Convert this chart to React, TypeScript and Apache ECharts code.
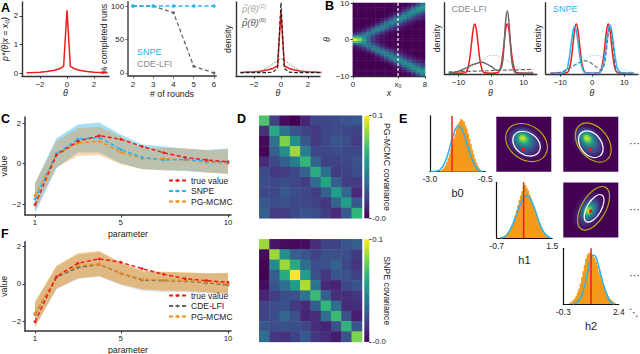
import React, { useEffect, useRef } from "react";
import * as echarts from "echarts";

const FONT = "Liberation Sans";
const RED = "#f01c1c";
const BLUE = "#27b4f0";
const ORANGE = "#f2901e";
const SLATE = "#5d666c";
const VIRIDIS = ["#440154", "#482878", "#3e4989", "#31688e", "#26828e", "#1f9e89", "#35b779", "#6ece58", "#b5de2b", "#fde725"];

// ---- Panel A
const thetaA = [-3, -2.5, -2, -1.5, -1, -0.6, -0.25, 0, 0.25, 0.6, 1, 1.5, 2, 2.5, 3];
const posteriorA = [0.01, 0.015, 0.03, 0.05, 0.09, 0.14, 0.23, 2.2, 0.23, 0.14, 0.09, 0.05, 0.03, 0.015, 0.01];
const rounds = [2, 3, 4, 5, 6];
const runsSnpe = [100, 100, 100, 100, 100];
const runsCde = [100, 100, 90, 10, 0];
const densityTrueA = [0.005, 0.01, 0.015, 0.025, 0.045, 0.07, 0.11, 1, 0.11, 0.07, 0.045, 0.025, 0.015, 0.01, 0.005];
const densityRound6 = [0, 0, 0, 0, 0, 0.01, 0.07, 1.15, 0.07, 0.01, 0, 0, 0, 0, 0];
const densityRound2 = [0, 0.005, 0.01, 0.03, 0.08, 0.15, 0.2, 0.235, 0.2, 0.15, 0.08, 0.03, 0.01, 0.005, 0];

// ---- Panel B
const heatXs = [0.25, 0.75, 1.25, 1.75, 2.25, 2.75, 3.25, 3.75, 4.25, 4.75, 5.25, 5.75, 6.25, 6.75, 7.25, 7.75];
const heatThetas = [0, 0.625, 1.25, 1.875, 2.5, 3.125, 3.75, 4.375, 5, 5.625, 6.25, 6.875, 7.5, 8.125, 8.75, 9.375, 10];
// one row per x column, upper half of the symmetric image
const heatUpper = [
  [1.0, 0.72, 0.3, 0.08, 0.02, 0, 0, 0, 0, 0, 0, 0, 0, 0, 0, 0, 0],
  [0.85, 0.68, 0.4, 0.16, 0.05, 0.01, 0, 0, 0, 0, 0, 0, 0, 0, 0, 0, 0],
  [0.58, 0.52, 0.45, 0.28, 0.12, 0.04, 0.01, 0, 0, 0, 0, 0, 0, 0, 0, 0, 0],
  [0.3, 0.32, 0.4, 0.42, 0.26, 0.11, 0.03, 0.01, 0, 0, 0, 0, 0, 0, 0, 0, 0],
  [0.15, 0.17, 0.26, 0.39, 0.43, 0.27, 0.12, 0.04, 0.01, 0, 0, 0, 0, 0, 0, 0, 0],
  [0.06, 0.08, 0.14, 0.26, 0.4, 0.44, 0.28, 0.13, 0.04, 0.01, 0, 0, 0, 0, 0, 0, 0],
  [0.02, 0.03, 0.06, 0.14, 0.27, 0.41, 0.44, 0.3, 0.14, 0.05, 0.01, 0, 0, 0, 0, 0, 0],
  [0.01, 0.01, 0.03, 0.06, 0.15, 0.28, 0.43, 0.45, 0.3, 0.15, 0.05, 0.01, 0, 0, 0, 0, 0],
  [0, 0, 0.01, 0.02, 0.07, 0.16, 0.3, 0.43, 0.46, 0.31, 0.16, 0.05, 0.01, 0, 0, 0, 0],
  [0, 0, 0, 0.01, 0.03, 0.08, 0.17, 0.31, 0.44, 0.46, 0.32, 0.16, 0.06, 0.01, 0, 0, 0],
  [0, 0, 0, 0, 0.01, 0.03, 0.09, 0.18, 0.33, 0.45, 0.47, 0.33, 0.17, 0.06, 0.01, 0, 0],
  [0, 0, 0, 0, 0, 0.01, 0.04, 0.1, 0.19, 0.34, 0.46, 0.48, 0.34, 0.18, 0.07, 0.02, 0],
  [0, 0, 0, 0, 0, 0, 0.01, 0.05, 0.11, 0.2, 0.35, 0.47, 0.49, 0.35, 0.19, 0.07, 0.02],
  [0, 0, 0, 0, 0, 0, 0, 0.02, 0.06, 0.12, 0.21, 0.36, 0.48, 0.5, 0.36, 0.2, 0.08],
  [0, 0, 0, 0, 0, 0, 0, 0, 0.02, 0.07, 0.13, 0.22, 0.37, 0.5, 0.51, 0.37, 0.21],
  [0, 0, 0, 0, 0, 0, 0, 0, 0, 0.03, 0.08, 0.14, 0.23, 0.39, 0.51, 0.52, 0.39],
];
const thetaB = [-13, -10, -8, -7.5, -7, -6.5, -6, -5.5, -5, -4.5, -4, -3.5, -3, -2.5, -2, 0, 2, 2.5, 3, 3.5, 4, 4.5, 5, 5.5, 6, 6.5, 7, 7.5, 8, 10, 13];
const trueB = [0, 0, 0.01, 0.04, 0.13, 0.32, 0.6, 0.88, 1, 0.88, 0.6, 0.32, 0.13, 0.04, 0.01, 0, 0.01, 0.04, 0.13, 0.32, 0.6, 0.88, 1, 0.88, 0.6, 0.32, 0.13, 0.04, 0.01, 0, 0];
const roundOneB = [0.01, 0.03, 0.07, 0.08, 0.1, 0.115, 0.13, 0.15, 0.17, 0.19, 0.21, 0.23, 0.25, 0.27, 0.29, 0.36, 0.36, 0.34, 0.33, 0.31, 0.29, 0.27, 0.25, 0.23, 0.21, 0.19, 0.17, 0.15, 0.13, 0.07, 0.02];
const cdeFinal = [0, 0.04, 0.1, 0.11, 0.13, 0.15, 0.165, 0.18, 0.19, 0.2, 0.21, 0.22, 0.225, 0.22, 0.21, 0.14, 0.06, 0.06, 0.09, 0.2, 0.55, 1.05, 1.26, 1.05, 0.55, 0.2, 0.06, 0.01, 0, 0, 0];
const cdeMiddle = [0.03, 0.035, 0.04, 0.04, 0.04, 0.04, 0.04, 0.045, 0.045, 0.045, 0.045, 0.045, 0.05, 0.05, 0.05, 0.055, 0.06, 0.06, 0.06, 0.06, 0.065, 0.065, 0.065, 0.065, 0.07, 0.07, 0.07, 0.07, 0.07, 0.075, 0.08];
const snpeFinal = [0, 0, 0.08, 0.2, 0.4, 0.64, 0.86, 0.95, 0.86, 0.64, 0.4, 0.2, 0.08, 0.02, 0.005, 0, 0.005, 0.02, 0.08, 0.2, 0.4, 0.66, 0.88, 0.98, 0.88, 0.66, 0.4, 0.2, 0.08, 0, 0];
const snpeMiddle = [0, 0.02, 0.07, 0.09, 0.11, 0.13, 0.15, 0.17, 0.19, 0.21, 0.22, 0.235, 0.245, 0.25, 0.25, 0.19, 0.09, 0.07, 0.07, 0.12, 0.25, 0.5, 0.78, 0.92, 0.85, 0.55, 0.22, 0.07, 0.02, 0, 0];

// ---- Panels C and F
const parameters = [1, 2, 3, 4, 5, 6, 7, 8, 9, 10];
const cTrue = [-2.03, 0.43, 1.1, 1.38, 1.2, 0.85, 0.54, 0.31, 0.18, 0.1];
const cSnpe = [-1.74, 0.49, 1.21, 1.29, 0.7, 0.3, 0.18, 0.21, 0.11, 0.07];
const cPg = [-1.57, 0.43, 1.02, 1.11, 0.56, 0.26, 0.25, 0.18, 0.07, 0.02];
const cSnpeHi = [-0.97, 1.25, 1.93, 2.03, 1.44, 0.95, 0.84, 0.75, 0.67, 0.75];
const cSnpeLo = [-2.44, -0.23, 0.55, 0.55, 0.02, -0.26, -0.33, -0.36, -0.44, -0.48];
const cPgHi = [-0.97, 1.11, 1.74, 1.82, 1.33, 0.79, 0.79, 0.75, 0.66, 0.7];
const cPgLo = [-2.28, -0.18, 0.38, 0.43, -0.03, -0.28, -0.33, -0.34, -0.44, -0.52];
const fTrue = [-2.0, 0.39, 1.1, 1.33, 1.15, 0.81, 0.51, 0.28, 0.18, 0.09];
const fCde = [-1.6, 0.35, 0.88, 1.04, 0.57, 0.21, 0.18, 0.16, 0.07, -0.05];
const fPg = [-1.56, 0.39, 0.96, 1.06, 0.57, 0.25, 0.21, 0.19, 0.1, 0];
const fCdeHi = [-1.0, 0.9, 1.55, 1.68, 1.1, 0.66, 0.62, 0.58, 0.55, 0.56];
const fCdeLo = [-2.3, -0.28, 0.27, 0.38, -0.06, -0.36, -0.42, -0.44, -0.48, -0.56];
const fPgHi = [-0.94, 0.97, 1.63, 1.75, 1.15, 0.71, 0.65, 0.62, 0.57, 0.6];
const fPgLo = [-2.27, -0.25, 0.3, 0.42, -0.02, -0.28, -0.35, -0.37, -0.44, -0.53];

// ---- Panel D
const covPg = [
  [0.72, 0.2, 0.03, 0.0, 0.1, 0.22, 0.22, 0.23, 0.26, 0.28],
  [0.14, 0.6, 0.38, 0.26, 0.2, 0.17, 0.22, 0.23, 0.22, 0.2],
  [0.02, 0.38, 0.8, 0.5, 0.28, 0.17, 0.22, 0.27, 0.24, 0.18],
  [0.01, 0.3, 0.5, 0.85, 0.43, 0.22, 0.22, 0.24, 0.22, 0.22],
  [0.12, 0.22, 0.3, 0.43, 0.66, 0.32, 0.2, 0.2, 0.22, 0.26],
  [0.23, 0.17, 0.18, 0.22, 0.32, 0.62, 0.36, 0.18, 0.2, 0.24],
  [0.24, 0.22, 0.24, 0.22, 0.18, 0.34, 0.58, 0.3, 0.18, 0.18],
  [0.22, 0.22, 0.28, 0.24, 0.22, 0.18, 0.3, 0.55, 0.33, 0.12],
  [0.28, 0.24, 0.26, 0.22, 0.22, 0.2, 0.16, 0.32, 0.56, 0.28],
  [0.3, 0.18, 0.18, 0.22, 0.26, 0.24, 0.18, 0.12, 0.28, 0.65],
];
const covSnpe = [
  [0.85, 0.06, 0.03, 0.02, 0.04, 0.13, 0.2, 0.2, 0.27, 0.3],
  [0.03, 0.85, 0.5, 0.3, 0.27, 0.2, 0.25, 0.25, 0.24, 0.17],
  [0.01, 0.48, 0.85, 0.6, 0.36, 0.24, 0.25, 0.32, 0.22, 0.15],
  [0.0, 0.3, 0.6, 1.0, 0.55, 0.25, 0.16, 0.27, 0.25, 0.2],
  [0.04, 0.27, 0.36, 0.55, 0.88, 0.38, 0.12, 0.1, 0.22, 0.27],
  [0.1, 0.18, 0.24, 0.25, 0.38, 0.68, 0.3, 0.13, 0.13, 0.16],
  [0.2, 0.24, 0.25, 0.17, 0.12, 0.3, 0.66, 0.36, 0.12, 0.13],
  [0.2, 0.24, 0.33, 0.25, 0.1, 0.13, 0.36, 0.68, 0.25, 0.08],
  [0.28, 0.24, 0.25, 0.24, 0.22, 0.13, 0.1, 0.25, 0.65, 0.27],
  [0.36, 0.16, 0.14, 0.2, 0.28, 0.16, 0.13, 0.08, 0.26, 0.8],
];

// ---- Panel E
const histB0 = [0, 0, 0, 0, 0, 0, 0, 0.01, 0.03, 0.05, 0.08, 0.12, 0.18, 0.26, 0.34, 0.44, 0.53, 0.63, 0.72, 0.82, 0.9, 0.95, 1.0, 0.98, 0.95, 0.88, 0.82, 0.72, 0.62, 0.52, 0.42, 0.33, 0.24, 0.17, 0.11, 0.06, 0.03, 0.01, 0, 0];
const histH1 = [0, 0, 0, 0.01, 0.02, 0.03, 0.05, 0.08, 0.11, 0.15, 0.2, 0.26, 0.33, 0.42, 0.52, 0.62, 0.72, 0.8, 0.88, 0.97, 1.0, 0.95, 0.9, 0.82, 0.76, 0.68, 0.6, 0.52, 0.44, 0.37, 0.3, 0.23, 0.17, 0.12, 0.08, 0.05, 0.03, 0.01, 0, 0];
const histH2 = [0, 0, 0, 0, 0.01, 0.03, 0.05, 0.08, 0.11, 0.16, 0.22, 0.3, 0.4, 0.52, 0.64, 0.76, 0.88, 0.96, 0.99, 1.0, 0.97, 0.93, 0.9, 0.82, 0.74, 0.64, 0.55, 0.48, 0.4, 0.33, 0.26, 0.2, 0.15, 0.1, 0.07, 0.05, 0.03, 0.01, 0, 0];
const fitB0X = [-2.985, -2.686, -2.536, -2.386, -2.236, -2.087, -1.937, -1.817, -1.713, -1.608, -1.488, -1.338, -1.189, -1.039, -0.889, -0.739, -0.589];
const fitB0Y = [0, 0.01, 0.04, 0.12, 0.27, 0.48, 0.7, 0.83, 0.87, 0.84, 0.74, 0.55, 0.35, 0.18, 0.07, 0.02, 0];
const fitH1X = [-0.567, -0.367, -0.233, -0.1, 0.033, 0.167, 0.3, 0.433, 0.527, 0.633, 0.767, 0.9, 1.033, 1.167, 1.3, 1.433];
const fitH1Y = [0, 0.03, 0.1, 0.22, 0.38, 0.55, 0.7, 0.78, 0.79, 0.74, 0.6, 0.42, 0.24, 0.11, 0.04, 0];
const fitH2X = [0.188, 0.351, 0.513, 0.676, 0.839, 1.002, 1.132, 1.245, 1.376, 1.538, 1.701, 1.864, 2.026, 2.19];
const fitH2Y = [0, 0.03, 0.1, 0.27, 0.55, 0.84, 0.95, 0.94, 0.8, 0.55, 0.32, 0.14, 0.03, 0];
// [cx, cy, rx, ry, rotation in degrees, viridis index]
const pairB0H1Blob = [
  [52, 54, 38, 30, -35, 0.3], [52, 54, 33, 26, -35, 0.7], [51, 55, 29, 23, -35, 1.2], [51, 56, 25, 20, -35, 2],
  [50, 57, 21, 17, -35, 2.8], [50, 58, 17, 14, -35, 3.6], [49, 59, 14, 11.5, -35, 4.5], [49, 60, 11, 9, -35, 5.5],
  [49, 60, 8.5, 7, -30, 6.5], [48, 61, 6, 5, -30, 7.5], [48, 61, 3.5, 3, 0, 8.2],
];
const pairB0H2Blob = [
  [47, 53, 38, 27, -50, 0.3], [47, 54, 33, 23, -50, 0.7], [46, 55, 29, 20, -50, 1.2], [46, 56, 25, 18, -50, 2],
  [45, 57, 21, 15, -50, 2.8], [45, 58, 17, 12.5, -50, 3.6], [44, 59, 14, 10.5, -50, 4.5], [44, 60, 11, 8.5, -50, 5.5],
  [44, 60, 8.5, 6.5, -45, 6.5], [43, 61, 6, 5, -45, 7.5], [43, 61, 3.5, 3, 0, 8.2],
];
const pairH1H2Blob = [
  [46, 48, 38, 26, 60, 0.3], [46, 48, 32, 21, 60, 0.7], [46, 48, 27, 18, 60, 1.2], [47, 49, 23, 15, 60, 2],
  [47, 49, 19, 13, 60, 2.8], [47, 49, 16, 11, 60, 3.6], [46, 49, 13, 9, 60, 4.5], [46, 49, 10.5, 7.5, 60, 5.5],
  [46, 49, 8, 6, 60, 6.5], [46, 49, 5.5, 4, 60, 7.5], [46, 49, 3, 2.5, 60, 8.2],
];
const pairB0H1Rings = [[55, 53, 41, 31, -35], [55, 51, 27, 20, -35]];
const pairB0H2Rings = [[54.5, 53, 40, 27, -52], [50, 50, 27, 19, -52]];
const pairH1H2Rings = [[55, 53, 44, 22, 60], [56, 53, 28, 13, 60]];
const ringColors = ["#b8aa14", "#ffffff"];
const truthB0H1 = [49, 41];
const truthB0H2 = [50, 41];
const truthH1H2 = [50, 48];

const grids: any[] = [];
const xAxes: any[] = [];
const yAxes: any[] = [];
const series: any[] = [];
const visualMaps: any[] = [];
const colorbars: any[] = [];

const minus = (v: any) => String(v).replace("-", "\u2212");

function panel(left: number, top: number, width: number, height: number, x: any, y: any, extra: any = {}) {
  const i = grids.length;
  grids.push({ left, top, width, height, containLabel: false, outerBoundsMode: "none", ...extra });
  xAxes.push({ gridIndex: i, ...x });
  yAxes.push({ gridIndex: i, ...y });
  return i;
}

function vAxis(o: any) {
  const color = o.color ?? "#333";
  const ticks = o.ticks ?? [];
  return {
    type: "value",
    min: o.min,
    max: o.max,
    position: o.position,
    splitLine: { show: false },
    axisLine: { show: o.line !== false, onZero: false, lineStyle: { color, width: o.width ?? 1.4 } },
    axisTick: { show: ticks.length > 0 && o.noTick !== true, length: o.tickLen ?? 2.5, customValues: ticks, lineStyle: { color, width: 1 } },
    axisLabel: {
      show: ticks.length > 0,
      customValues: ticks,
      fontSize: o.fontSize ?? 7.8,
      fontFamily: FONT,
      color: "#222",
      margin: o.margin ?? 4,
      formatter: o.formatter ?? minus,
    },
    name: o.name,
    nameLocation: "middle",
    nameGap: o.nameGap ?? 12,
    nameRotate: o.nameRotate,
    nameMoveOverlap: o.nameMoveOverlap,
    nameTextStyle: { fontSize: o.nameSize ?? 8.8, fontFamily: FONT, color: "#222", fontStyle: o.italic ? "italic" : "normal" },
  };
}

const hidden = (n: number, inverse = false) => ({
  type: "category",
  show: false,
  inverse,
  data: Array.from({ length: n }, (_, i) => String(i)),
});
const hiddenValue = { type: "value", min: 0, max: 100, show: false };

function lineXY(g: number, xs: number[], ys: number[], color: string, extra: any = {}) {
  series.push({
    type: "line",
    xAxisIndex: g,
    yAxisIndex: g,
    data: xs.map((x, i) => [x, ys[i]]),
    showSymbol: false,
    symbol: "none",
    lineStyle: { color, width: 1.5 },
    itemStyle: { color },
    silent: true,
    ...extra,
  });
}

function band(g: number, xs: number[], lo: number[], hi: number[], fill: string) {
  series.push({
    type: "custom",
    coordinateSystem: "cartesian2d",
    xAxisIndex: g,
    yAxisIndex: g,
    silent: true,
    data: xs.map((x, i) => [x, lo[i], hi[i]]),
    renderItem: (p: any, api: any) => {
      if (p.dataIndex !== 0) return null;
      const points = [...xs.map((x, i) => api.coord([x, hi[i]])), ...xs.map((_, i) => api.coord([xs[xs.length - 1 - i], lo[xs.length - 1 - i]]))];
      return { type: "polygon", shape: { points }, style: { fill } };
    },
  });
}

function paramPanel(top: number, height: number, yMin: number, yMax: number, bottomName: string) {
  return panel(
    25, top, 206, height,
    vAxis({ min: 0.535, max: 10.14, ticks: [1, 5, 10], name: bottomName, nameGap: 14, width: 1.5, margin: 3 }),
    vAxis({ min: yMin, max: yMax, ticks: [-2, 0, 2], name: "value", nameGap: 11, width: 1.5 })
  );
}

function dashed(g: number, ys: number[], color: string, name: string) {
  lineXY(g, parameters, ys, color, {
    name,
    showSymbol: true,
    symbol: "diamond",
    symbolSize: 3.5,
    lineStyle: { color, width: 1.5, type: [4, 2.5] },
  });
}

function matrix(top: number, values: number[][], label: string) {
  const g = panel(259.3, top, 102.7, 102.6, hidden(10), hidden(10, true));
  series.push({
    type: "heatmap",
    xAxisIndex: g,
    yAxisIndex: g,
    silent: true,
    data: values.flatMap((row, r) => row.map((v, c) => [c, r, v])),
  });
  visualMaps.push({
    type: "continuous",
    show: false,
    seriesIndex: series.length - 1,
    min: 0,
    max: 1,
    inRange: { color: VIRIDIS },
  });
  colorbars.push({
    type: "rect",
    shape: { x: 364.3, y: top, width: 5, height: 102.6 },
    style: {
      fill: new echarts.graphic.LinearGradient(
        0, 1, 0, 0,
        VIRIDIS.map((color, i) => ({ offset: i / (VIRIDIS.length - 1), color }))
      ),
    },
  });
  panel(
    364.3, top, 5, 102.6,
    { type: "value", show: false, min: 0, max: 1 },
    vAxis({
      min: 0, max: 1, position: "right", ticks: [0, 1], line: false, tickLen: 2, margin: 3,
      formatter: (v: number) => (v === 1 ? "0.1" : "-0.0"),
      name: label, nameRotate: -90, nameGap: 13, nameMoveOverlap: false,
    })
  );
}

function density(left: number, top: number, blob: number[][], rings: number[][], truth: number[]) {
  const g = panel(left, top, 55, 55, hiddenValue, hiddenValue, { show: true, backgroundColor: VIRIDIS[0], borderWidth: 0 });
  const ell = (api: any, stroke: string | null, fill: string | null, lw = 0) => {
    const c = api.coord([api.value(0), api.value(1)]);
    const s = api.size([api.value(2), api.value(3)]);
    return {
      type: "ellipse",
      x: c[0],
      y: c[1],
      rotation: (api.value(4) * Math.PI) / 180,
      shape: { cx: 0, cy: 0, rx: s[0], ry: s[1] },
      style: { fill: fill ?? "none", stroke: stroke ?? "none", lineWidth: lw },
    };
  };
  series.push({
    type: "custom",
    coordinateSystem: "cartesian2d",
    xAxisIndex: g,
    yAxisIndex: g,
    silent: true,
    data: blob,
    renderItem: (_: any, api: any) => {
      const lv = api.value(5);
      const a = VIRIDIS[Math.floor(lv)];
      const b = VIRIDIS[Math.ceil(lv)];
      const color = lv % 1 ? echarts.color.lerp(lv % 1, [a, b]) : a;
      return ell(api, null, color);
    },
  });
  series.push({
    type: "custom",
    coordinateSystem: "cartesian2d",
    xAxisIndex: g,
    yAxisIndex: g,
    silent: true,
    data: rings,
    renderItem: (p: any, api: any) => ell(api, ringColors[p.dataIndex], null, 1.2),
  });
  series.push({
    type: "scatter",
    xAxisIndex: g,
    yAxisIndex: g,
    silent: true,
    symbolSize: 3.6,
    itemStyle: { color: "#ff1414", opacity: 1 },
    data: [truth],
  });
}

function histogram(left: number, top: number, min: number, max: number, yMax: number, hist: number[], fx: number[], fy: number[], truth: number, labels: string[], name: string) {
  const g = panel(
    left, top, 55.5, 55.7,
    vAxis({
      min, max, ticks: [min, max], noTick: true, color: "#111", width: 1.2, margin: 3, fontSize: 8.5,
      formatter: (v: number) => (v === min ? labels[0] : labels[1]),
      name, nameGap: 16, nameSize: 11,
    }),
    vAxis({ min: 0, max: yMax, color: "#111", width: 1.2 })
  );
  const w = (max - min) / hist.length;
  series.push({
    type: "bar",
    xAxisIndex: g,
    yAxisIndex: g,
    silent: true,
    barWidth: 2.1,
    itemStyle: { color: "#f59a1c" },
    data: hist.map((v, i) => [min + (i + 0.5) * w, v]),
  });
  lineXY(g, fx, fy, BLUE, { smooth: true });
  lineXY(g, [truth, truth], [0, yMax], RED);
}

// ---- A
const a1 = panel(
  22, 2, 87, 74,
  vAxis({ min: -3.33, max: 3.11, ticks: [-2, 0, 2], name: "\u03b8", italic: true, nameGap: 12 }),
  vAxis({ min: -0.105, max: 2.49, ticks: [0, 1, 2], name: "p*(\u03b8|x = x\u2080)", italic: true, nameGap: 9 })
);
lineXY(a1, thetaA, posteriorA, RED);

const a2 = panel(
  128, 2, 88, 74,
  vAxis({ min: 1.753, max: 6.1, ticks: rounds, name: "# of rounds", nameGap: 13, color: "#666", width: 1.8 }),
  vAxis({ min: -4.5, max: 106, ticks: [0, 50, 100], name: "% completed runs", nameGap: 20, nameMoveOverlap: false, color: "#666", width: 1.8 })
);
lineXY(a2, rounds, runsCde, SLATE, { showSymbol: true, symbol: "circle", symbolSize: 3, lineStyle: { color: SLATE, width: 1.3, type: [4, 2.5] } });
lineXY(a2, rounds, runsSnpe, BLUE, { showSymbol: true, symbol: "circle", symbolSize: 3.5, lineStyle: { color: BLUE, width: 1.3, type: [4, 2.5] } });

const a3 = panel(
  236, 2, 84, 74,
  vAxis({ min: -3.33, max: 2.89, ticks: [-2, 0, 2], name: "\u03b8", italic: true, nameGap: 12 }),
  vAxis({ min: -0.054, max: 1.16, name: "density", nameGap: 4 })
);
lineXY(a3, thetaA, densityTrueA, RED);
lineXY(a3, thetaA, densityRound2, "#777", { lineStyle: { color: "#777", width: 1, type: [1.5, 1.5] } });
lineXY(a3, thetaA, densityRound6, "#222", { lineStyle: { color: "#222", width: 1.2, type: [3.5, 2] } });

// ---- B
const heatB = panel(353, 3, 72, 73, hidden(heatXs.length), hidden(heatThetas.length * 2 - 1));
const heatRowsFromBottom = [...heatThetas.slice(1).reverse().map((_, i) => heatThetas.length - 1 - i), ...heatThetas.map((_, i) => i)];
series.push({
  type: "heatmap",
  xAxisIndex: heatB,
  yAxisIndex: heatB,
  silent: true,
  data: heatUpper.flatMap((col, c) => heatRowsFromBottom.map((row, r) => [c, r, col[row]])),
});
visualMaps.push({ type: "continuous", show: false, seriesIndex: series.length - 1, min: 0, max: 1, inRange: { color: VIRIDIS } });
const b1 = panel(
  353, 3, 72, 73,
  vAxis({
    min: 0, max: 8, ticks: [0, 5, 8], name: "x", italic: true, nameGap: 12,
    formatter: (v: number) => (v === 5 ? "x\u2080" : String(v)),
  }),
  vAxis({ min: -10, max: 10, ticks: [-10, 0, 10], name: "\u03b8", italic: true, nameGap: 15 })
);
lineXY(b1, [5, 5], [-10, 10], "#ffffff", { lineStyle: { color: "#fff", width: 1.2, type: [3, 2] } });

const b2 = panel(
  444.3, 2.7, 92.4, 71.3,
  vAxis({ min: -14.37, max: 14.06, ticks: [-10, 0, 10], name: "\u03b8", italic: true, nameGap: 14 }),
  vAxis({ min: -0.014, max: 1.43, name: "density", nameGap: 3 })
);
lineXY(b2, thetaB, roundOneB, "#b5b5b5", { smooth: true, lineStyle: { color: "#b5b5b5", width: 1, type: [1.5, 1.5] } });
lineXY(b2, thetaB, trueB, RED, { smooth: true });
lineXY(b2, thetaB, cdeMiddle, SLATE, { smooth: true, lineStyle: { color: SLATE, width: 1.2, type: [4, 2] } });
lineXY(b2, thetaB, cdeFinal, "#6a6a6a", { smooth: true });

const b3 = panel(
  545.7, 2.7, 92.3, 71.3,
  vAxis({ min: -14.56, max: 14.3, ticks: [-10, 0, 10], name: "\u03b8", italic: true, nameGap: 14 }),
  vAxis({ min: -0.014, max: 1.43, name: "density", nameGap: 3 })
);
lineXY(b3, thetaB, roundOneB, "#a5d8ee", { smooth: true, lineStyle: { color: "#a5d8ee", width: 1, type: [1.5, 1.5] } });
lineXY(b3, thetaB, trueB, RED, { smooth: true });
lineXY(b3, thetaB, snpeFinal, BLUE, { smooth: true });
lineXY(b3, thetaB, snpeMiddle, "#56788e", { smooth: true, lineStyle: { color: "#56788e", width: 1.2, type: [4, 2] } });

// ---- C
const c = paramPanel(117, 98, -2.53, 2.3, "parameter");
band(c, parameters, cSnpeLo, cSnpeHi, "rgba(0,160,230,0.35)");
band(c, parameters, cPgLo, cPgHi, "rgba(232,135,20,0.32)");
dashed(c, cPg, ORANGE, "PG-MCMC");
dashed(c, cSnpe, BLUE, "SNPE");
dashed(c, cTrue, RED, "true value");

// ---- F
const f = paramPanel(241.7, 89.3, -2.49, 2.24, "parameter");
band(f, parameters, fCdeLo, fCdeHi, "rgba(90,110,120,0.22)");
band(f, parameters, fPgLo, fPgHi, "rgba(230,130,0,0.42)");
dashed(f, fCde, SLATE, "CDE-LFI");
dashed(f, fPg, ORANGE, "PG-MCMC");
dashed(f, fTrue, RED, "true value");

// ---- D
matrix(115.7, covPg, "PG-MCMC covariance");
matrix(239.3, covSnpe, "SNPE covariance");

// ---- E
histogram(429.8, 115.9, -3, -0.5, 1.06, histB0, fitB0X, fitB0Y, -2.0, ["-3.0", "-0.5"], "b0");
density(496.3, 116.7, pairB0H1Blob, pairB0H1Rings, truthB0H1);
density(563.3, 116.7, pairB0H2Blob, pairB0H2Rings, truthB0H2);
histogram(496.7, 182.3, -0.7, 1.5, 1.05, histH1, fitH1X, fitH1Y, 0.367, ["-0.7", "1.5"], "h1");
density(563.3, 182.5, pairH1H2Blob, pairH1H2Rings, truthH1H2);
histogram(563.3, 248.3, -0.3, 2.4, 1.085, histH2, fitH2X, fitH2Y, 1.05, ["-0.3", "2.4"], "h2");

const letter = (text: string, x: number, y: number) => ({
  type: "text",
  x,
  y,
  style: { text, fontSize: 12.5, fontWeight: "bold", fontFamily: FONT, fill: "#000", verticalAlign: "middle" },
});
const note = (text: string, x: number, y: number, fill: string, fontSize = 9) => ({
  type: "text",
  x,
  y,
  style: { text, fontSize, fontFamily: FONT, fill, verticalAlign: "middle" },
});
const densityNote = (round: string, x: number, y: number, fill: string) => ({
  type: "text",
  x,
  y,
  style: {
    text: `{p|p\u0303(\u03b8)}{s|(${round})}`,
    fill,
    verticalAlign: "middle",
    rich: {
      p: { fontSize: 9.5, fontStyle: "italic", fontFamily: FONT, fill },
      s: { fontSize: 6, fontFamily: FONT, fill, verticalAlign: "top", padding: [0, 0, 4, 0] },
    },
  },
});
const graphics = [
  ...colorbars,
  letter("A", 1, 8),
  letter("B", 325, 6),
  letter("C", 1, 119),
  letter("F", 1, 234),
  letter("D", 237, 119),
  letter("E", 399, 119),
  note("SNPE", 137, 52, BLUE),
  note("CDE-LFI", 137, 64, "#888"),
  note("CDE-LFI", 451.5, 8.5, "#888"),
  note("SNPE", 553, 8.5, BLUE),
  densityNote("2", 242, 8, "#a8a8a8"),
  densityNote("6", 242, 22, "#555"),
  note("\u00b7\u00b7\u00b7", 629, 143, "#222", 11),
  note("\u00b7\u00b7\u00b7", 629, 209, "#222", 11),
  note("\u00b7\u00b7\u00b7", 629, 275, "#222", 11),
  { type: "text", x: 629, y: 312, style: { text: "\u22f1", fontSize: 10, fontFamily: "DejaVu Sans", fill: "#222", verticalAlign: "middle" } },
];

const legendBase = {
  orient: "vertical",
  left: 168,
  itemWidth: 17,
  itemHeight: 4.5,
  itemGap: 1.5,
  selectedMode: false,
  padding: 0,
  textStyle: { fontSize: 8.5, fontFamily: FONT, color: "#222" },
};

const option = {
  animation: false,
  backgroundColor: "#ffffff",
  grid: grids,
  xAxis: xAxes,
  yAxis: yAxes,
  series,
  visualMap: visualMaps,
  graphic: graphics,
  legend: [
    { ...legendBase, top: 176, data: ["true value", "SNPE", "PG-MCMC"] },
    { ...legendBase, top: 291, data: ["true value", "CDE-LFI", "PG-MCMC"] },
  ],
};

export default function App() {
  const ref = useRef<HTMLDivElement>(null);
  useEffect(() => {
    const chart = echarts.init(ref.current!, null, { renderer: "svg" });
    chart.setOption(option as any);
    return () => chart.dispose();
  }, []);
  return <div ref={ref} style={{ position: "absolute", left: 0, top: 0, width: 640, height: 354 }} />;
}
